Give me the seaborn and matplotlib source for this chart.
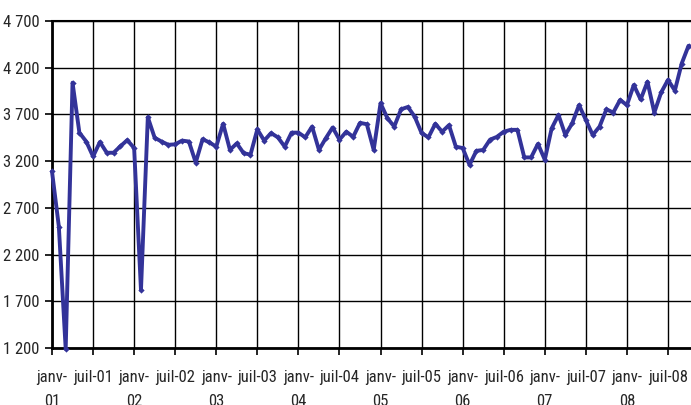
import matplotlib
matplotlib.use("Agg")
import matplotlib.pyplot as plt
import seaborn as sns
import pandas as pd
from matplotlib import font_manager

months = list(range(94))
values = [3090, 2500, 1190, 4040, 3505, 3410, 3250, 3405, 3290, 3290, 3360, 3425,
          3340, 1820, 3670, 3450, 3410, 3375, 3380, 3420, 3410, 3185, 3435, 3400,
          3355, 3600, 3320, 3390, 3285, 3270, 3540, 3420, 3500, 3455, 3355, 3505,
          3505, 3455, 3570, 3320, 3445, 3560, 3430, 3515, 3460, 3610, 3595, 3320,
          3820, 3660, 3570, 3755, 3780, 3675, 3500, 3455, 3600, 3515, 3585, 3355,
          3340, 3160, 3310, 3320, 3430, 3460, 3515, 3535, 3535, 3240, 3240, 3385,
          3215, 3550, 3695, 3480, 3605, 3800, 3640, 3480, 3570, 3755, 3720, 3855,
          3800, 4015, 3860, 4050, 3720, 3935, 4070, 3955, 4245, 4435]
x_tick_pos = list(range(0, 91, 6))
x_tick_labels = ["janv-\n01", "juil-01", "janv-\n02", "juil-02", "janv-\n03", "juil-03",
                 "janv-\n04", "juil-04", "janv-\n05", "juil-05", "janv-\n06", "juil-06",
                 "janv-\n07", "juil-07", "janv-\n08", "juil-08"]
y_ticks = [1200, 1700, 2200, 2700, 3200, 3700, 4200, 4700]
y_tick_labels = ["1 200", "1 700", "2 200", "2 700", "3 200", "3 700", "4 200", "4 700"]

sns.set_style("white")
plt.rcParams["font.family"] = ["Liberation Sans", "DejaVu Sans"]

# look for a condensed sans font
fp = None
size = 12
prefs = ["Liberation Sans Narrow", "Roboto Condensed", "Open Sans Condensed",
         "DejaVu Sans Condensed", "Noto Sans Condensed"]
cands = []
for f in font_manager.fontManager.ttflist:
    st = str(f.stretch).lower()
    nm = f.name
    if f.style != "normal":
        continue
    if f.weight not in (400, "normal", "regular"):
        continue
    if "Narrow" in nm or "Condensed" in nm or "condensed" in st or "Condensed" in f.fname:
        cands.append(f)
def rank(f):
    for i, p in enumerate(prefs):
        if p in f.name or p.replace(" ", "") in f.fname:
            return i
    return 99
if cands:
    cands.sort(key=rank)
    fp = font_manager.FontProperties(fname=cands[0].fname, size=size)
else:
    size = 10
    fp = font_manager.FontProperties(family="Liberation Sans", size=size)

df = pd.DataFrame({"month": months, "value": values})

fig = plt.figure(figsize=(6.91, 4.05), dpi=100)
ax = fig.add_axes([52 / 691, 1 - 348 / 405, 1 - 52 / 691, (348 - 21) / 405])

sns.lineplot(data=df, x="month", y="value", ax=ax, color="#333399", linewidth=2.8,
             marker="D", markersize=3.2, markeredgewidth=0, clip_on=False, zorder=5)

ax.set_xlim(0, 93.36)
ax.set_ylim(1200, 4700)
ax.set_xticks(x_tick_pos)
ax.set_xticklabels(x_tick_labels, fontproperties=fp, linespacing=1.7, va="top")
ax.set_yticks(y_ticks)
ax.set_yticklabels(y_tick_labels, fontproperties=fp)
ax.set_xlabel("")
ax.set_ylabel("")

ax.grid(True, color="black", linewidth=1.0)
ax.set_axisbelow(True)
for side in ["left", "bottom"]:
    ax.spines[side].set_color("black")
    ax.spines[side].set_linewidth(2.0)
ax.spines["top"].set_color("black")
ax.spines["top"].set_linewidth(1.5)
ax.spines["right"].set_visible(False)

ax.tick_params(axis="x", which="major", direction="out", length=5, width=1.2,
               color="black", pad=11, bottom=True)
ax.tick_params(axis="y", which="major", direction="out", length=5, width=1.2,
               color="black", pad=4, left=True)

fig.savefig("out.png", dpi=100)
